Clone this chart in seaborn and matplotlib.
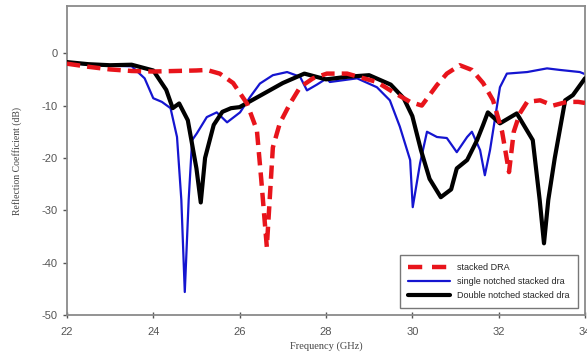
import matplotlib

matplotlib.use("Agg")

import matplotlib.pyplot as plt
import pandas as pd
import seaborn as sns

# stacked DRA (red dashed)
dra_freq = [22.0, 22.5, 23.0, 23.5, 24.0, 24.5, 25.0, 25.24, 25.54, 25.85, 26.17,
            26.4, 26.5, 26.63, 26.77, 26.93, 27.17, 27.4, 27.7, 28.02, 28.49,
            29.18, 29.55, 29.95, 30.22, 30.57, 30.8, 31.1, 31.38, 31.64, 31.87,
            32.08, 32.24, 32.35, 32.49, 32.66, 32.96, 33.26, 33.58, 33.84, 34.0]
dra_db = [-2.0, -2.6, -3.1, -3.4, -3.5, -3.4, -3.3, -3.2, -3.9, -5.7, -9.6,
          -14.7, -24.0, -37.0, -18.0, -13.4, -9.6, -6.5, -4.8, -3.9, -3.9,
          -5.5, -7.4, -9.3, -10.0, -6.1, -3.9, -2.3, -3.2, -5.7, -9.0,
          -15.0, -22.7, -15.0, -11.5, -9.3, -9.0, -10.0, -9.3, -9.3, -9.5]

# single notched stacked dra (blue)
single_freq = [22.0, 22.5, 23.0, 23.5, 23.8, 24.0, 24.2, 24.4, 24.55, 24.65,
               24.73, 24.82, 24.9, 25.01, 25.24, 25.47, 25.71, 26.01, 26.24,
               26.47, 26.77, 27.1, 27.4, 27.56, 27.79, 28.02, 28.09, 28.72,
               29.18, 29.48, 29.71, 29.95, 30.01, 30.18, 30.34, 30.57, 30.8,
               31.03, 31.27, 31.38, 31.57, 31.68, 31.8, 32.03, 32.19, 32.66,
               33.12, 33.42, 33.88, 34.0]
single_db = [-1.8, -2.2, -2.4, -2.5, -4.8, -8.6, -9.3, -10.5, -16.0, -28.0,
             -45.6, -28.0, -16.6, -15.3, -12.2, -11.3, -13.2, -11.3, -8.4,
             -5.8, -4.2, -3.6, -4.5, -7.1, -6.0, -4.8, -5.5, -4.8,
             -6.5, -9.0, -14.0, -20.4, -29.4, -21.0, -15.0, -16.0, -16.2,
             -18.9, -16.0, -15.0, -18.5, -23.3, -18.5, -6.5, -3.9, -3.6,
             -2.9, -3.2, -3.6, -4.0]

# Double notched stacked dra (black)
double_freq = [22.0, 22.5, 23.0, 23.5, 24.0, 24.3, 24.45, 24.6, 24.8, 25.0,
               25.1, 25.2, 25.4, 25.6, 25.8, 26.0, 26.5, 27.0, 27.5, 28.0,
               28.5, 29.0, 29.5, 29.8, 30.0, 30.2, 30.4, 30.66, 30.9, 31.03,
               31.27, 31.5, 31.64, 31.75, 32.03, 32.42, 32.79, 32.95, 33.05,
               33.15, 33.3, 33.54, 33.72, 34.0]
double_db = [-1.7, -2.1, -2.3, -2.2, -3.3, -7.0, -10.5, -9.6, -12.8, -22.0,
             -28.5, -20.0, -13.7, -11.2, -10.5, -10.3, -8.0, -5.7, -3.9, -5.0,
             -4.5, -4.2, -6.0, -8.6, -12.0, -18.5, -24.0, -27.5, -26.0, -22.0,
             -20.4, -16.6, -13.7, -11.3, -13.4, -11.5, -16.6, -28.0, -36.3,
             -28.0, -20.0, -9.0, -8.0, -4.8]

x_ticks = [22, 24, 26, 28, 30, 32, 34]
y_ticks = [-50, -40, -30, -20, -10, 0]

dra = pd.DataFrame({"freq": dra_freq, "db": dra_db})
single = pd.DataFrame({"freq": single_freq, "db": single_db})
double = pd.DataFrame({"freq": double_freq, "db": double_db})

sns.set_style("ticks")
plt.rcParams["font.family"] = ["Liberation Sans", "DejaVu Sans"]
plt.rcParams["axes.unicode_minus"] = False

fig = plt.figure(figsize=(5.87, 3.56), dpi=100)
ax = fig.add_axes([0.114, 0.115, 0.8826, 0.868])

sns.lineplot(data=dra, x="freq", y="db", ax=ax, color="#e8141b", linewidth=3.2,
             sort=False, label="stacked DRA", zorder=4)
ax.lines[-1].set_dashes([3, 1.6])
sns.lineplot(data=single, x="freq", y="db", ax=ax, color="#1515d0", linewidth=1.6,
             sort=False, label="single notched stacked dra", zorder=2)
sns.lineplot(data=double, x="freq", y="db", ax=ax, color="black", linewidth=3.0,
             sort=False, label="Double notched stacked dra", zorder=3)

ax.set_xlim(22, 34)
ax.set_ylim(-50, 9)
ax.set_xticks(x_ticks)
ax.set_yticks(y_ticks)
ax.tick_params(axis="both", labelsize=8, colors="#555555", length=3, width=1)
ax.tick_params(axis="x", direction="inout", length=5, pad=6)
for s in ax.spines.values():
    s.set_color("#8a8a8a")
    s.set_linewidth(1.3)

ax.set_xlabel("Frequency (GHz)", family="Liberation Serif", fontsize=7.5,
              color="#444444", labelpad=3)
ax.set_ylabel("Reflection Coefficient (dB)", family="Liberation Serif",
              fontsize=7, color="#444444", labelpad=14)

leg = ax.legend(loc="lower right", bbox_to_anchor=(1.0, 0.0), fontsize=6.5,
                handlelength=4.6, handletextpad=0.8, fancybox=False,
                framealpha=1, edgecolor="#777777", borderpad=0.9,
                labelspacing=0.55, borderaxespad=0.8)
leg.get_frame().set_linewidth(1.0)
leg.get_lines()[0].set_dashes([3.2, 2.2])

fig.savefig("out.png", dpi=100)
